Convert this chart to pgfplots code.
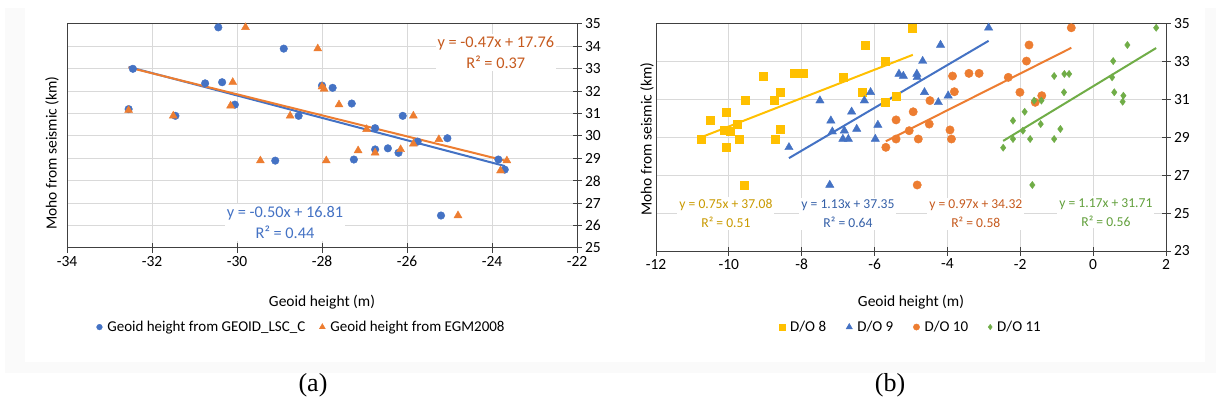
\documentclass[border=0pt]{standalone}
\usepackage{pgfplots}
\pgfplotsset{compat=1.18}
\usepackage{fontspec}
\setmainfont{Carlito}
\newfontfamily\capfont{Liberation Serif}
\definecolor{mblue}{HTML}{4472C4}
\definecolor{morange}{HTML}{ED7D31}
\definecolor{myellow}{HTML}{FFC000}
\definecolor{mgreen}{HTML}{70AD47}
\definecolor{tblue}{HTML}{4472C4}
\definecolor{torange}{HTML}{C65A1E}
\definecolor{tyellow}{HTML}{C99A00}
\definecolor{tblue2}{HTML}{3560A8}
\definecolor{tgreen}{HTML}{62A03C}
\definecolor{gridc}{HTML}{D9D9D9}
\definecolor{axc}{HTML}{404040}
\definecolor{framec}{HTML}{FAFAFA}
\newcommand{\tickfont}{\fontsize{15.5}{18}\selectfont}
\newcommand{\labfont}{\fontsize{15.5}{18}\selectfont}
\pgfplotsset{
  common/.style={
    scale only axis,
    axis line style={color=axc,line width=1pt},
    tick style={color=axc,line width=1pt},
    major tick length=9pt,
    tick align=center,
    grid=major,
    grid style={color=gridc,line width=1pt},
    xtick pos=bottom,
    ytick pos=right,
    yticklabel pos=right,
    ticklabel style={font=\tickfont},
    /pgf/number format/assume math mode=true,
    /pgf/number format/fixed,
    legend style={draw=none,fill=none,font=\fontsize{15}{18}\selectfont,legend columns=-1,
      /tikz/every even column/.append style={column sep=12pt},
      /tikz/every odd column/.append style={column sep=3pt}},
    legend image post style={scale=0.75},
    clip=false,
  }
}
\begin{document}
\begin{tikzpicture}[x=1pt,y=1pt]
\useasboundingbox (0,0) rectangle (1216,410);
\fill[framec] (5,37) rectangle (1216,402);
\fill[white] (25,48) rectangle (1205,402);

% ---------------- panel (a)
\begin{axis}[common,
  at={(67pt,162pt)},anchor=south west,width=510pt,height=224pt,
  xmin=-34,xmax=-22,ymin=25,ymax=35,
  xtick={-34,-32,...,-22},ytick={25,26,...,35},
  legend style={at={(axis description cs:0.46,-0.353)},anchor=center},
]
\addplot[only marks,mark=*,mark size=3.8pt,color=mblue,mark options={fill=mblue,draw=mblue}] coordinates {
(-30.44,34.85)(-28.9,33.9)(-32.45,33.0)(-30.75,32.35)(-30.35,32.4)(-30.05,31.4)
(-32.55,31.2)(-31.45,30.9)(-28.55,30.9)(-29.1,28.9)(-28.0,32.25)(-27.75,32.15)
(-27.3,31.45)(-26.1,30.9)(-26.75,30.35)(-26.75,29.4)(-26.45,29.45)(-26.2,29.25)
(-27.25,28.95)(-25.75,29.75)(-25.05,29.9)(-25.2,26.45)(-23.85,28.95)(-23.7,28.5)};
\addlegendentry{Geoid height from GEOID\_LSC\_C}
\addplot[only marks,mark=triangle*,mark size=4.6pt,color=morange,mark options={fill=morange,draw=morange}] coordinates {
(-29.8,34.85)(-30.1,32.4)(-30.15,31.35)(-32.55,31.15)(-31.5,30.9)(-28.75,30.9)
(-29.45,28.9)(-28.1,33.9)(-28.0,32.2)(-27.95,32.1)(-27.6,31.4)(-25.85,30.9)
(-26.95,30.3)(-27.15,29.35)(-26.75,29.25)(-26.15,29.4)(-27.9,28.9)(-25.85,29.65)
(-25.25,29.85)(-24.8,26.45)(-23.8,28.45)(-23.65,28.9)};
\addlegendentry{Geoid height from EGM2008}
\addplot[forget plot,color=mblue,line width=2pt] coordinates {(-32.55,33.085)(-23.7,28.66)};
\addplot[forget plot,color=morange,line width=2pt] coordinates {(-32.55,33.06)(-23.65,28.88)};
\node[fill=white,inner sep=2pt,align=center,text=tblue,font=\fontsize{16.3}{21}\selectfont] at (axis cs:-28.87,26.14) {y = -0.50x + 16.81\\R² = 0.44};
\node[fill=white,inner sep=2pt,align=center,text=torange,font=\fontsize{16.3}{21}\selectfont] at (axis cs:-23.91,33.73) {y = -0.47x + 17.76\\R² = 0.37};
\end{axis}
\node[rotate=90,font=\labfont] at (52,257) {Moho from seismic (km)};
\node[font=\labfont] at (322,108) {Geoid height (m)};
\node[font=\capfont\fontsize{26}{28}\selectfont] at (313,25) {(a)};

% ---------------- panel (b)
\begin{axis}[common,
  at={(656pt,159pt)},anchor=south west,width=510pt,height=227pt,
  xmin=-12,xmax=2,ymin=23,ymax=35,
  xtick={-12,-10,...,2},ytick={23,25,...,35},
  legend style={at={(axis description cs:0.5,-0.335)},anchor=center,
    /tikz/every even column/.append style={column sep=18pt}},
]
\addplot[only marks,mark=square*,mark size=4pt,color=myellow,mark options={fill=myellow,draw=myellow}] coordinates {
(-10.75,28.92)(-10.52,29.93)(-10.08,30.36)(-10.13,29.36)(-9.97,29.31)(-10.08,28.48)
(-9.77,29.71)(-9.73,28.92)(-9.54,30.95)(-9.58,26.49)(-9.07,32.25)(-8.20,32.39)
(-7.97,32.39)(-8.59,31.39)(-8.76,30.95)(-8.59,29.45)(-8.73,28.92)(-6.86,32.18)
(-6.25,33.89)(-6.35,31.39)(-5.71,33.04)(-5.71,30.89)(-5.41,31.19)(-4.96,34.8)};
\addlegendentry{D/O 8}
\addplot[only marks,mark=triangle*,mark size=4.8pt,color=mblue,mark options={fill=mblue,draw=mblue}] coordinates {
(-8.35,28.48)(-7.50,30.95)(-7.20,29.89)(-7.16,29.31)(-7.23,26.49)(-6.83,29.36)
(-6.87,28.92)(-6.72,28.92)(-6.63,30.36)(-6.49,29.45)(-6.28,30.95)(-6.11,31.39)
(-5.98,28.92)(-5.91,29.66)(-5.33,32.36)(-5.21,32.25)(-4.84,32.36)(-4.83,32.18)
(-4.68,33.04)(-4.63,31.39)(-4.25,30.86)(-4.19,33.89)(-3.98,31.21)(-2.87,34.8)};
\addlegendentry{D/O 9}
\addplot[only marks,mark=*,mark size=4.2pt,color=morange,mark options={fill=morange,draw=morange}] coordinates {
(-5.41,29.93)(-5.69,28.48)(-5.41,28.92)(-5.05,29.36)(-4.94,30.36)(-4.80,28.92)
(-4.83,26.49)(-4.50,29.71)(-4.48,30.95)(-3.93,29.40)(-3.89,28.92)(-3.86,32.25)
(-3.81,31.42)(-3.41,32.39)(-3.13,32.39)(-2.33,32.18)(-2.01,31.39)(-1.83,33.04)
(-1.76,33.89)(-1.59,30.86)(-1.41,31.21)(-0.60,34.8)};
\addlegendentry{D/O 10}
\addplot[only marks,mark=diamond*,mark size=3.6pt,color=mgreen,mark options={fill=mgreen,draw=mgreen}] coordinates {
(-2.47,28.46)(-2.20,29.89)(-2.20,28.92)(-1.93,29.36)(-1.88,30.36)(-1.73,28.92)
(-1.67,26.49)(-1.62,30.95)(-1.44,29.71)(-1.42,30.95)(-1.07,32.25)(-1.07,28.92)
(-0.90,29.45)(-0.79,32.36)(-0.80,31.39)(-0.66,32.36)(0.55,33.04)(0.52,32.18)
(0.58,31.39)(0.83,31.21)(0.81,30.89)(0.94,33.89)(1.73,34.8)};
\addlegendentry{D/O 11}
\addplot[forget plot,color=myellow,line width=2pt] coordinates {(-10.75,29.02)(-4.95,33.37)};
\addplot[forget plot,color=mblue,line width=2pt] coordinates {(-8.35,27.91)(-2.87,34.11)};
\addplot[forget plot,color=morange,line width=2pt] coordinates {(-5.69,28.80)(-0.60,33.74)};
\addplot[forget plot,color=mgreen,line width=2pt] coordinates {(-2.47,28.82)(1.73,33.73)};
\node[fill=white,inner sep=2pt,align=center,text=tyellow,font=\fontsize{13.6}{19}\selectfont] at (axis cs:-10.08,24.98) {y = 0.75x + 37.08\\R² = 0.51};
\node[fill=white,inner sep=2pt,align=center,text=tblue2,font=\fontsize{13.6}{19}\selectfont] at (axis cs:-6.73,24.98) {y = 1.13x + 37.35\\R² = 0.64};
\node[fill=white,inner sep=2pt,align=center,text=torange,font=\fontsize{13.6}{19}\selectfont] at (axis cs:-3.22,24.98) {y = 0.97x + 34.32\\R² = 0.58};
\node[fill=white,inner sep=2pt,align=center,text=tgreen,font=\fontsize{13.6}{19}\selectfont] at (axis cs:0.35,25.04) {y = 1.17x + 31.71\\R² = 0.56};
\end{axis}
\node[rotate=90,font=\labfont] at (647,271) {Moho from seismic (km)};
\node[font=\labfont] at (911,108) {Geoid height (m)};
\node[font=\capfont\fontsize{26}{28}\selectfont] at (890,25) {(b)};
\end{tikzpicture}
\end{document}
